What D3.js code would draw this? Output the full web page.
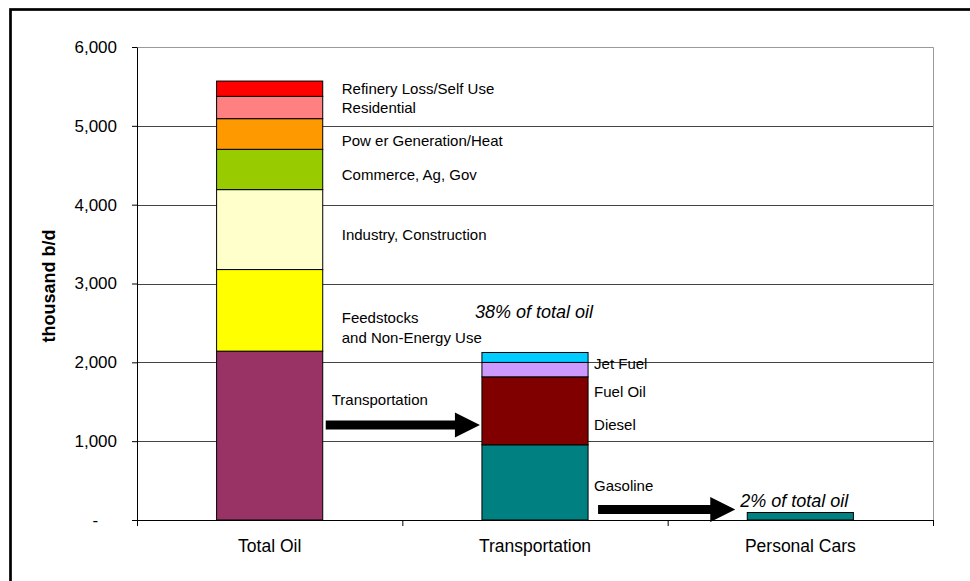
<!DOCTYPE html>
<html>
<head>
<meta charset="utf-8">
<script src="https://cdn.jsdelivr.net/npm/d3@7"></script>
<style>
  body { margin: 0; background: #fff; }
  svg { display: block; font-family: "Liberation Sans", Arial, sans-serif; }
</style>
</head>
<body>
<svg id="chart"></svg>
<script>
// Categories on the x axis
var categories = ["Total Oil", "Transportation", "Personal Cars"];

// Total oil use, stacked bottom to top (thousand b/d)
var totalNames = ["Transportation", "Feedstocks|and Non-Energy Use", "Industry, Construction",
    "Commerce, Ag, Gov", "Pow er Generation/Heat", "Residential", "Refinery Loss/Self Use"];
var totalValues = [2142, 1035, 1014, 511, 389, 283, 194];
var totalColors = ["#993366", "#FFFF00", "#FFFFCC", "#99CC00", "#FF9900", "#FF8080", "#FF0000"];

// Transportation split, bottom to top
var transNames = ["Gasoline", "Diesel", "Fuel Oil", "Jet Fuel"];
var transValues = [954, 862, 183, 126];
var transColors = ["#008080", "#800000", "#CC99FF", "#00CCFF"];

// Personal cars
var carsValues = [95];
var carsColors = ["#008080"];

var yTicks = [0, 1000, 2000, 3000, 4000, 5000, 6000];

// where the text labels sit (in thousand b/d)
var totalLabelLevels = [1531, 2566, 3615, 4377, 4808, 5230, 5476];
var transLabelLevels = [431, 1214, 1628, 1979];
var notes = [
    {cat: "Transportation", level: 2642, text: "38% of total oil"},
    {cat: "Personal Cars", level: 245, text: "2% of total oil"}
];

const W = 970, H = 581;
const plot = {left: 137, right: 933, top: 47, bottom: 520};

var svg = d3.select("#chart").attr("width", W).attr("height", H);

// outer frame (only top and left edges show in the picture)
svg.append("rect")
    .attr("x", 10.5).attr("y", 9.5)
    .attr("width", 1200).attr("height", 1200)
    .attr("fill", "none").attr("stroke", "#000").attr("stroke-width", 2.7);

var x = d3.scaleBand()
    .domain(categories)
    .range([plot.left, plot.right])
    .paddingInner(0.6)
    .paddingOuter(0.3);

var y = d3.scaleLinear()
    .domain([0, 6000])
    .range([plot.bottom, plot.top]);

// gridlines
svg.append("g")
    .selectAll("line")
    .data(yTicks.filter(d => d > 0 && d < 6000)).enter()
    .append("line")
    .attr("x1", plot.left).attr("x2", plot.right)
    .attr("y1", d => Math.round(y(d)) + 0.5).attr("y2", d => Math.round(y(d)) + 0.5)
    .attr("stroke", "#444");

// plot area border (top and right)
svg.append("path")
    .attr("d", `M${plot.left},${plot.top + 0.5}H${plot.right + 0.5}V${plot.bottom}`)
    .attr("fill", "none")
    .attr("stroke", "#999");

// stacked bars
function drawStack(cat, values, colors) {
    var tops = d3.cumsum(values);
    svg.append("g")
        .selectAll("rect")
        .data(values).enter()
        .append("rect")
        .attr("x", x(cat))
        .attr("width", x.bandwidth())
        .attr("y", (d, i) => y(tops[i]))
        .attr("height", (d, i) => y(tops[i] - d) - y(tops[i]))
        .attr("fill", (d, i) => colors[i])
        .attr("stroke", "#000")
        .attr("stroke-width", 1);
}
drawStack("Total Oil", totalValues, totalColors);
drawStack("Transportation", transValues, transColors);
drawStack("Personal Cars", carsValues, carsColors);

// segment labels
function drawLabels(cat, names, levels, dx) {
    var g = svg.append("g")
        .attr("font-size", 15)
        .attr("fill", "#000");
    names.forEach(function(name, i) {
        var lines = name.split("|");
        var t = g.append("text")
            .attr("y", y(levels[i]));
        lines.forEach(function(l, j) {
            t.append("tspan")
                .attr("x", x(cat) + x.bandwidth() + dx)
                .attr("dy", j === 0 ? "0.35em" : "20")
                .text(l);
        });
    });
}
drawLabels("Total Oil", totalNames.slice(1), totalLabelLevels.slice(1), 19);
drawLabels("Total Oil", [totalNames[0]], [totalLabelLevels[0]], 9);
drawLabels("Transportation", transNames, transLabelLevels, 6);

// italic notes
svg.append("g")
    .selectAll("text")
    .data(notes).enter()
    .append("text")
    .attr("x", d => x(d.cat) - 7)
    .attr("y", d => y(d.level))
    .attr("dy", "0.35em")
    .attr("font-size", 18)
    .attr("font-style", "italic")
    .text(d => d.text);

// arrows between bars
var arrows = [
    {from: "Total Oil", to: "Transportation", level: 1205, gap0: 3, gap1: 2},
    {from: "Transportation", to: "Personal Cars", level: 133, gap0: 10, gap1: 12}
];
svg.append("g")
    .selectAll("path")
    .data(arrows).enter()
    .append("path")
    .attr("fill", "#000")
    .attr("d", function(d) {
        var x0 = x(d.from) + x.bandwidth() + d.gap0;
        var x1 = x(d.to) - d.gap1;
        var cy = y(d.level);
        var head = 25, sh = 4.5, hh = 12.5;
        return `M${x0},${cy - sh}H${x1 - head}V${cy - hh}L${x1},${cy}L${x1 - head},${cy + hh}V${cy + sh}H${x0}Z`;
    });

// y axis
var yAxis = svg.append("g")
    .attr("transform", `translate(${plot.left},0)`)
    .call(d3.axisLeft(y)
        .tickValues(yTicks)
        .tickSizeInner(5)
        .tickSizeOuter(0)
        .tickPadding(15)
        .tickFormat(d => d === 0 ? "-\u00a0\u00a0\u00a0\u00a0" : d3.format(",")(d)));
yAxis.select(".domain").attr("stroke", "#000");
yAxis.selectAll(".tick line").attr("stroke", "#000");
yAxis.selectAll(".tick text")
    .attr("font-size", 17)
    .attr("font-family", "Liberation Sans, Arial, sans-serif")
    .attr("dy", "0.32em")
    .attr("fill", "#000");

// x axis: labels under bands, ticks between categories
var xAxis = svg.append("g")
    .attr("transform", `translate(0,${plot.bottom})`)
    .call(d3.axisBottom(x).tickSize(0).tickPadding(20));
xAxis.select(".domain").remove();
xAxis.selectAll(".tick text")
    .attr("font-size", 17.5)
    .attr("font-family", "Liberation Sans, Arial, sans-serif")
    .attr("fill", "#000");

svg.append("line")
    .attr("x1", plot.left).attr("x2", plot.right)
    .attr("y1", plot.bottom + 0.5).attr("y2", plot.bottom + 0.5)
    .attr("stroke", "#000");

svg.append("g")
    .selectAll("line")
    .data(d3.range(categories.length + 1)).enter()
    .append("line")
    .attr("x1", i => plot.left + i * x.step() + 0.5)
    .attr("x2", i => plot.left + i * x.step() + 0.5)
    .attr("y1", plot.bottom).attr("y2", plot.bottom + 6)
    .attr("stroke", "#000");

// y axis title
svg.append("text")
    .attr("transform", "translate(55,286) rotate(-90)")
    .attr("text-anchor", "middle")
    .attr("font-size", 18)
    .attr("font-weight", "bold")
    .text("thousand b/d");
</script>
</body>
</html>
